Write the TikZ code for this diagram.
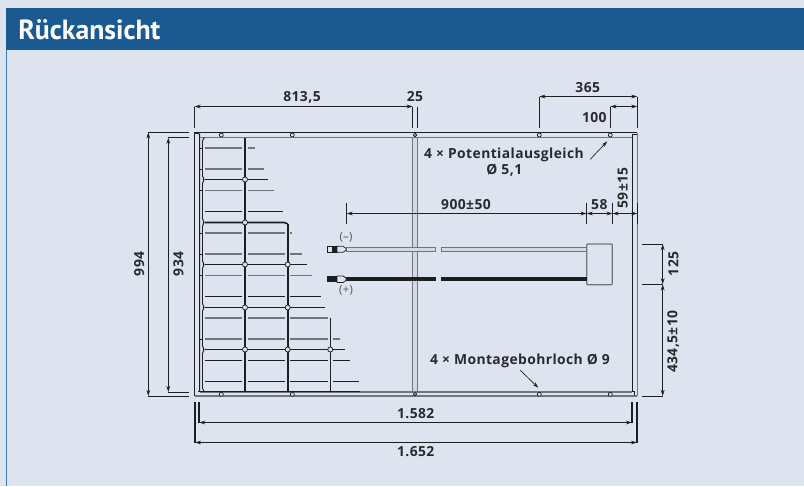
\documentclass[tikz,border=0pt]{standalone}
\usepackage{fontspec}
\setmainfont{Open Sans}[LetterSpace=3]
\newfontfamily\titlefont{PT Sans}
\usetikzlibrary{arrows.meta}
\definecolor{pagebg}{HTML}{DDE4F0}
\definecolor{headblue}{HTML}{1A5A90}
\definecolor{edgeblue}{HTML}{3B78B0}
\definecolor{ink}{HTML}{1E1E20}
\definecolor{midgray}{HTML}{72767C}
\definecolor{lightfill}{HTML}{D4DAE4}
\definecolor{txt}{HTML}{2A2A2E}
\tikzset{
  x=0.75pt,y=-0.75pt,
  dimline/.style={draw=ink,line width=0.7pt,{Stealth[length=4.6pt,width=2.8pt]}-{Stealth[length=4.6pt,width=2.8pt]}},
  extline/.style={draw=ink,line width=0.75pt},
  heavyext/.style={draw=ink,line width=1.5pt},
  leader/.style={draw=ink,line width=0.5pt,-{Stealth[length=4.6pt,width=2.8pt]}},
  dimtext/.style={font=\bfseries\fontsize{10.4}{12}\selectfont,text=txt,inner sep=0pt,align=center},
  polar/.style={font=\fontsize{8.4}{10}\selectfont,text=midgray!70!black,inner sep=0pt},
  cellgray/.style={draw=midgray,line width=1.05pt},
  celldark/.style={draw=ink,line width=0.75pt},
  busbar/.style={draw=ink,line width=1.2pt},
  holemark/.style={circle,draw=ink,line width=0.55pt,fill=pagebg,minimum size=3pt,inner sep=0pt},
  joint/.style={circle,draw=ink,line width=0.55pt,fill=pagebg,minimum size=3.8pt,inner sep=0pt},
}
\begin{document}
\begin{tikzpicture}
\useasboundingbox (0,0) rectangle (804,486);
\fill[pagebg] (0,0) rectangle (804,486);
\fill[edgeblue] (6,50) rectangle (7.2,486);
\fill[headblue] (6,8) rectangle (804,50);
\node[anchor=west,inner sep=0pt,text=white,font=\titlefont\bfseries\fontsize{20.8}{23}\selectfont] (title) at (18,30) {Rückansicht};

% ---- centre bar
\fill[lightfill] (412.7,137) rectangle (417.3,392);
\draw[midgray,line width=0.9pt] (412.7,137) -- (412.7,392) (417.3,137) -- (417.3,392);

% ---- frame
\draw[midgray,line width=1.1pt] (200,392.2) -- (632.3,392.2);
\draw[midgray,line width=1.5pt] (194.5,396) -- (637.3,396);
\draw[ink,line width=0.6pt] (198,391.5) -- (360,391.5);
\draw[ink,line width=1.1pt] (194.5,396) -- (194.5,132.5) -- (637.3,132.5);
\draw[midgray,line width=1pt] (637.3,132.5) -- (637.3,396);
\draw[ink,line width=0.75pt] (194.5,133) -- (199.7,134) -- (199.7,391.7);
\draw[midgray,line width=0.9pt] (200,137.5) -- (632.3,137.5);
\draw[ink,line width=0.9pt] (637,134.5) -- (632.3,134.5) -- (632.3,391.7);
\draw[ink,line width=0.6pt] (632.3,391.7) -- (634.5,391.7) -- (634.5,395);

% ---- left bracket
\draw[ink,line width=0.7pt,rounded corners=1.2pt]
  (204.5,137.7) -- (202.5,139.5) -- (202.5,177.5) -- (204.5,179.5) -- (202.5,182) -- (202.5,220) -- (204.5,222.5)
  -- (202.5,224.5) -- (202.5,262.5) -- (204.5,264.5) -- (202.5,267) -- (202.5,305) -- (204.5,307.5)
  -- (202.5,309.5) -- (202.5,347.5) -- (204.5,349.5) -- (202.5,352) -- (202.5,389.5) -- (204.5,391.7);
\foreach \ty in {148,169,190.5,233,254,275.5,339}
  \draw[ink,line width=0.6pt] (199.7,\ty) -- (202.5,\ty);

% ---- thin cell lines
\foreach \ty/\sty/\ca/\cb/\cc/\cd in {
  148/cellgray/254.7/0/0/0,
  169/cellgray/264/0/0/0,
  190.5/cellgray/273.7/0/0/0,
  211.5/celldark/282.7/0/0/0,
  233/cellgray/285/292/0/0,
  254/cellgray/285/301.7/0/0,
  275.5/cellgray/285/311.7/0/0,
  296.5/celldark/285/320.7/0/0,
  318/cellgray/285/327.7/0/0,
  339/cellgray/285/327.7/339.7/0,
  360.5/celldark/285/327.7/349.7/0,
  381.5/celldark/285/327.7/358.7/0}{
  \draw[\sty] (205,\ty) -- (242.3,\ty);
  \draw[\sty] (247.7,\ty) -- (\ca,\ty);
  \ifdim\cb pt>0pt \draw[\sty] (290.3,\ty) -- (\cb,\ty); \fi
  \ifdim\cc pt>0pt \draw[\sty] (333,\ty) -- (\cc,\ty); \fi
}
% ---- bus bars
\draw[ink,line width=1.5pt] (245,137.7) -- (245,391.7);
\draw[ink,line width=1.2pt] (287.7,224) -- (287.7,391.7);
\draw[ink,line width=0.9pt] (330.3,317.7) -- (330.3,391.7);
\draw[busbar] (205,179.5) -- (268,179.5);
\draw[busbar,rounded corners=1.5pt] (205,222.5) -- (286,222.5) -- (287.7,224);
\draw[busbar] (205,264.5) -- (306.7,264.5);
\draw[busbar] (205,307.5) -- (325.3,307.5);
\draw[busbar] (205,349.5) -- (345,349.5);
\foreach \jx/\jy in {245/179.5,245/222.5,245/264.5,245/307.5,245/349.5,
  287.7/264.5,287.7/307.5,287.7/349.5,330.3/349.5}
  \node[joint] at (\jx,\jy) {};

% ---- holes
\foreach \hx in {221.3,292.3,539.3,610.3}{
  \node[holemark] at (\hx,135) {};
  \node[holemark] at (\hx,394.3) {};
}
\node[holemark,minimum size=2.6pt] at (415,135) {};
\node[holemark,minimum size=2.6pt] at (415,394) {};

% ---- junction box and cables
\node[draw=midgray,fill=pagebg,line width=0.9pt,rounded corners=0.8pt,minimum width=19.2pt,minimum height=30.5pt,inner sep=0pt] (jbox) at (599.5,264.4) {};
\draw[draw=midgray,fill=lightfill,line width=0.7pt] (346,247.6) rectangle (435.7,251);
\draw[draw=midgray,fill=lightfill,line width=0.7pt] (441.3,247.6) rectangle (586.7,251);
\fill[ink] (346,277.3) rectangle (435.7,281.3);
\fill[ink] (441.3,277.3) rectangle (586.7,281.3);
% connector minus
\draw[ink,fill=pagebg,line width=0.55pt] (327.5,246.5) rectangle (337,252);
\fill[ink] (332,246.5) rectangle (337,252);
\draw[ink,fill=pagebg,line width=0.55pt] (337,246.3) -- (343,246.3) -- (346,248.3) -- (346,250.3) -- (343,252.3) -- (337,252.3) -- cycle;
% connector plus
\fill[ink] (327.3,276.3) rectangle (337,282.3);
\draw[ink,fill=pagebg,line width=0.55pt] (337,276) -- (343,276) -- (346,278) -- (346,280.6) -- (343,282.6) -- (337,282.6) -- cycle;
\node[polar] (minus) at (346,237.7) {(–)};
\node[polar] (plus) at (346,290.7) {(+)};

% ---- extension lines
\draw[extline] (194.5,106.7) -- (194.5,127.7);
\draw[extline] (412.7,106.7) -- (412.7,127.7);
\draw[extline] (417.3,106.7) -- (417.3,127.7);
\draw[extline] (539.3,96.7) -- (539.3,127.7);
\draw[extline] (610.3,106.7) -- (610.3,127.7);
\draw[extline] (637.3,96.7) -- (637.3,127.7);
\draw[extline] (148.3,132.5) -- (189,132.5);
\draw[extline] (148.3,396) -- (189,396);
\draw[extline] (168.3,137.5) -- (189,137.5);
\draw[extline] (168.3,392) -- (189,392);
\draw[extline] (346.7,202.7) -- (346.7,224);
\draw[extline] (586.7,202.7) -- (586.7,224);
\draw[extline] (612.5,202.7) -- (612.5,224);
\draw[extline] (637.3,202.7) -- (637.3,224);
\draw[extline] (642,244) -- (662.7,244);
\draw[extline] (642,284.3) -- (662.7,284.3);
\draw[extline] (642,396) -- (662.7,396);
\draw[heavyext] (195,402) -- (195,442.8);
\draw[heavyext] (199.2,402) -- (199.2,422.8);
\draw[heavyext] (632,402) -- (632,422.8);
\draw[heavyext] (637,402) -- (637,442.8);

% ---- dimension lines
\coordinate (d1a) at (194.5,106.5); \coordinate (d1b) at (412.7,106.5);
\draw[dimline] (d1a) -- (d1b);
\coordinate (d2a) at (539.3,96.5); \coordinate (d2b) at (637.3,96.5);
\draw[dimline] (d2a) -- (d2b);
\coordinate (d3a) at (610.3,106.5); \coordinate (d3b) at (637.3,106.5);
\draw[dimline] (d3a) -- (d3b);
\coordinate (d4a) at (148.3,132.3); \coordinate (d4b) at (148.3,396);
\draw[dimline] (d4a) -- (d4b);
\coordinate (d5a) at (168.3,137.7); \coordinate (d5b) at (168.3,392);
\draw[dimline] (d5a) -- (d5b);
\coordinate (d6a) at (346.7,213.5); \coordinate (d6b) at (586.7,213.5); \coordinate (d6c) at (612.5,213.5); \coordinate (d6d) at (637.3,213.5);
\draw[dimline] (d6a) -- (d6b);
\draw[dimline] (d6b) -- (d6c);
\draw[dimline] (d6c) -- (d6d);
\coordinate (d7a) at (662.7,244); \coordinate (d7b) at (662.7,284.3); \coordinate (d7c) at (662.7,396);
\draw[dimline] (d7a) -- (d7b);
\draw[dimline] (d7b) -- (d7c);
\coordinate (d8a) at (199.2,422.5); \coordinate (d8b) at (632,422.5);
\draw[dimline] (d8a) -- (d8b);
\coordinate (d9a) at (195,442.5); \coordinate (d9b) at (637,442.5);
\draw[dimline] (d9a) -- (d9b);

% ---- labels
\node[dimtext] (l813) at (302,97) {813,5};
\node[dimtext] (l25) at (415,97) {25};
\node[dimtext] (l365) at (587.7,88) {365};
\node[dimtext] (l100) at (594.3,118) {100};
\node[dimtext,rotate=90] (l994) at (139.3,264) {994};
\node[dimtext,rotate=90] (l934) at (178.3,264) {934};
\node[dimtext] (l900) at (466,205) {900±50};
\node[dimtext] (l58) at (599.3,205) {58};
\node[dimtext,rotate=90] (l59) at (622.7,188) {59±15};
\node[dimtext,rotate=90] (l125) at (673.3,264) {125};
\node[dimtext,rotate=90] (l434) at (673.3,341.7) {434,5±10};
\node[dimtext] (l1582) at (415.7,413.3) {1.582};
\node[dimtext] (l1652) at (415.7,451.5) {1.652};
\node[dimtext] (lpot) at (504,155) {4 × Potentialausgleich};
\node[dimtext] (ldia) at (504.3,170) {Ø 5,1};
\node[dimtext] (lmont) at (520,361) {4 × Montagebohrloch Ø 9};

\coordinate (p1) at (590.3,159.3); \coordinate (p2) at (607.3,141.3);
\draw[leader] (p1) -- (p2);
\coordinate (m1) at (520,370); \coordinate (m2) at (538.3,387.7);
\draw[leader] (m1) -- (m2);
\end{tikzpicture}
\end{document}
